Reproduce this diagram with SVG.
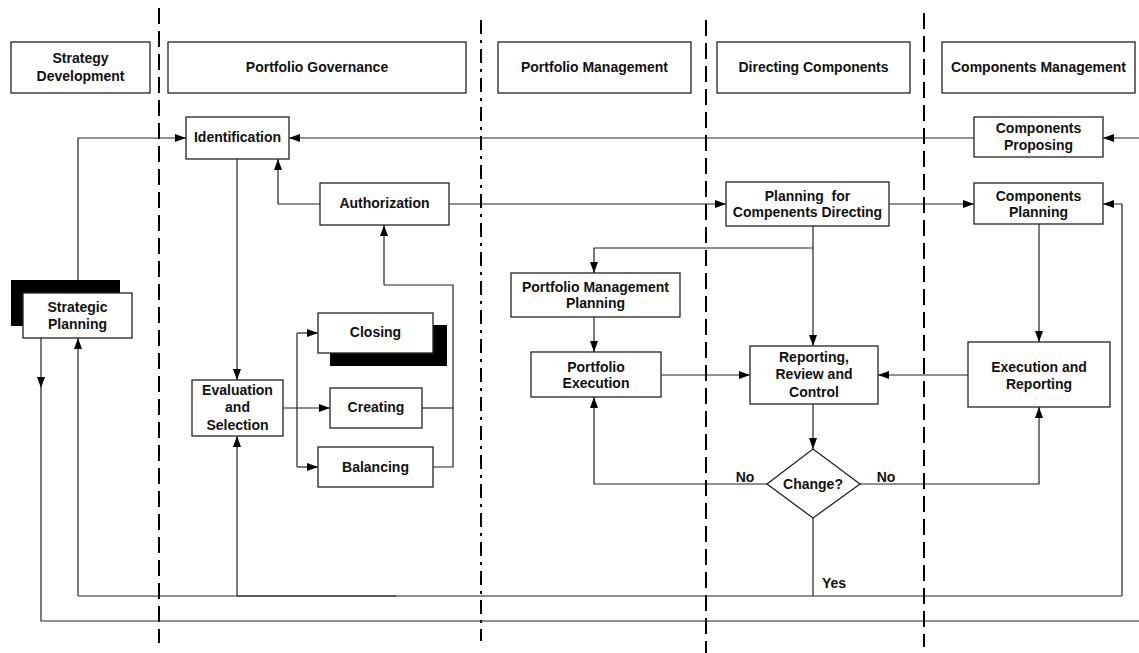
<svg xmlns="http://www.w3.org/2000/svg" width="1139" height="653" viewBox="0 0 1139 653">
<defs>
<marker id="ah" markerWidth="11" markerHeight="8" refX="11" refY="4" orient="auto" markerUnits="userSpaceOnUse">
<path d="M0,0 L11,4 L0,8 z" fill="#000"/>
</marker>
<style>
.box{fill:#fff;stroke:#222;stroke-width:1.3}
.sh{fill:#000;stroke:none}
.t{font-family:"Liberation Sans",Arial,sans-serif;font-weight:bold;font-size:14px;fill:#111;text-anchor:middle}
.l{fill:none;stroke:#222;stroke-width:1.2}
.a{fill:none;stroke:#222;stroke-width:1.2;marker-end:url(#ah)}
.d{stroke:#000;stroke-width:2;stroke-dasharray:16,7;fill:none}
.dd{stroke:#000;stroke-width:2;stroke-dasharray:14,6,3,6;fill:none}
</style>
</defs>
<rect width="1139" height="653" fill="#fff"/>

<g id="lanes">
<line class="d" x1="159" y1="8" x2="159" y2="643"/>
<line class="dd" x1="481" y1="20" x2="481" y2="641"/>
<line class="d" x1="706" y1="20" x2="706" y2="653"/>
<line class="d" x1="924" y1="13" x2="924" y2="647"/>
</g>

<g id="headers">
<g id="h-strategy"><rect class="box" x="11" y="42" width="139" height="51"/><text class="t" x="80.5" y="63">Strategy</text><text class="t" x="80.5" y="81">Development</text></g>
<g id="h-governance"><rect class="box" x="168" y="42" width="298" height="51"/><text class="t" x="317" y="72">Portfolio Governance</text></g>
<g id="h-management"><rect class="box" x="498" y="42" width="193" height="51"/><text class="t" x="594.5" y="72">Portfolio Management</text></g>
<g id="h-directing"><rect class="box" x="717" y="42" width="193" height="51"/><text class="t" x="813.5" y="72">Directing Components</text></g>
<g id="h-components"><rect class="box" x="942" y="42" width="193" height="51"/><text class="t" x="1038.5" y="72">Components Management</text></g>
</g>

<g id="connectors">
<!-- Strategic Planning up to Identification -->
<polyline class="a" points="78,293 78,138 186,138"/>
<!-- Components Proposing to Identification -->
<line class="a" x1="974" y1="138" x2="289" y2="138"/>
<!-- from right edge into Components Proposing -->
<line class="a" x1="1139" y1="138" x2="1103" y2="138"/>
<!-- Authorization to Identification -->
<polyline class="a" points="320,204 278,204 278,159"/>
<!-- Authorization to Planning for Compenents Directing -->
<line class="a" x1="449" y1="204" x2="726" y2="204"/>
<!-- Planning to Components Planning -->
<line class="a" x1="889" y1="204" x2="974" y2="204"/>
<!-- Identification to Evaluation -->
<line class="a" x1="237" y1="159" x2="237" y2="380"/>
<!-- Evaluation branches -->
<line class="a" x1="283" y1="408" x2="330" y2="408"/>
<polyline class="l" points="297,408 297,333"/>
<polyline class="l" points="297,408 297,467"/>
<line class="a" x1="297" y1="333" x2="318" y2="333"/>
<line class="a" x1="297" y1="467" x2="318" y2="467"/>
<!-- Creating/Balancing back to Authorization -->
<polyline class="l" points="422,408 453,408"/>
<polyline class="l" points="433,467 453,467 453,285 384,285"/>
<line class="a" x1="384" y1="285" x2="384" y2="225"/>
<!-- Planning for Compenents Directing down -->
<line class="a" x1="813" y1="226" x2="813" y2="346"/>
<polyline class="a" points="813,248 594,248 594,273"/>
<line class="a" x1="594" y1="317" x2="594" y2="352"/>
<line class="a" x1="661" y1="375" x2="750" y2="375"/>
<line class="a" x1="968" y1="375" x2="878" y2="375"/>
<line class="a" x1="1039" y1="224" x2="1039" y2="342"/>
<line class="a" x1="813" y1="404" x2="813" y2="449"/>
<!-- Change? outputs -->
<polyline class="a" points="767,484 594,484 594,397"/>
<polyline class="a" points="860,484 1039,484 1039,407"/>
<line class="l" x1="813" y1="518" x2="813" y2="596"/>
<!-- inner bottom loop -->
<line class="l" x1="78" y1="596" x2="1122" y2="596" stroke="#555"/>
<line class="l" x1="237" y1="596" x2="396" y2="596" stroke="#222" stroke-width="1.6"/>
<line class="a" x1="78" y1="596" x2="78" y2="338"/>
<line class="a" x1="237" y1="596" x2="237" y2="436"/>
<polyline class="a" points="1122,596 1122,204 1103,204"/>
<!-- outer bottom loop -->
<line class="a" x1="41" y1="338" x2="41" y2="388"/>
<polyline class="l" points="41,388 41,621 1139,621"/>
</g>

<g id="n-identification"><rect class="box" x="186" y="117" width="103" height="42"/><text class="t" x="237.5" y="142">Identification</text></g>
<g id="n-authorization"><rect class="box" x="320" y="183" width="129" height="42"/><text class="t" x="384.5" y="208">Authorization</text></g>
<g id="n-planning-directing"><rect class="box" x="726" y="182" width="163" height="44"/><text class="t" x="807.5" y="201" xml:space="preserve">Planning  for</text><text class="t" x="807.5" y="217">Compenents Directing</text></g>
<g id="n-proposing"><rect class="box" x="974" y="117" width="129" height="40"/><text class="t" x="1038.5" y="133">Components</text><text class="t" x="1038.5" y="150">Proposing</text></g>
<g id="n-comp-planning"><rect class="box" x="974" y="183" width="129" height="41"/><text class="t" x="1038.5" y="201">Components</text><text class="t" x="1038.5" y="217">Planning</text></g>
<g id="n-strategic-planning"><rect class="sh" x="11" y="280" width="109" height="46"/><rect class="box" x="23" y="293" width="109" height="45"/><text class="t" x="77.5" y="312">Strategic</text><text class="t" x="77.5" y="329">Planning</text></g>
<g id="n-evaluation"><rect class="box" x="192" y="380" width="91" height="56"/><text class="t" x="237.5" y="395">Evaluation</text><text class="t" x="237.5" y="412">and</text><text class="t" x="237.5" y="430">Selection</text></g>
<g id="n-closing"><rect class="sh" x="330" y="325" width="117" height="41"/><rect class="box" x="318" y="313" width="115" height="40"/><text class="t" x="375.5" y="337">Closing</text></g>
<g id="n-creating"><rect class="box" x="330" y="388" width="92" height="40"/><text class="t" x="376" y="412">Creating</text></g>
<g id="n-balancing"><rect class="box" x="318" y="447" width="115" height="40"/><text class="t" x="375.5" y="472">Balancing</text></g>
<g id="n-pm-planning"><rect class="box" x="511" y="273" width="169" height="44"/><text class="t" x="595.5" y="292">Portfolio Management</text><text class="t" x="595.5" y="308">Planning</text></g>
<g id="n-pm-execution"><rect class="box" x="531" y="352" width="130" height="45"/><text class="t" x="596" y="372">Portfolio</text><text class="t" x="596" y="388">Execution</text></g>
<g id="n-reporting"><rect class="box" x="750" y="346" width="128" height="58"/><text class="t" x="814" y="362">Reporting,</text><text class="t" x="814" y="379">Review and</text><text class="t" x="814" y="397">Control</text></g>
<g id="n-exec-reporting"><rect class="box" x="968" y="342" width="142" height="65"/><text class="t" x="1039" y="372">Execution and</text><text class="t" x="1039" y="389">Reporting</text></g>
<g id="n-change"><polygon class="box" points="813,449 860,484 813,518 767,484"/><text class="t" x="813" y="489">Change?</text></g>
<g id="labels">
<text class="t" x="745" y="482">No</text>
<text class="t" x="886" y="482">No</text>
<text class="t" x="834" y="588">Yes</text>
</g>
</svg>
